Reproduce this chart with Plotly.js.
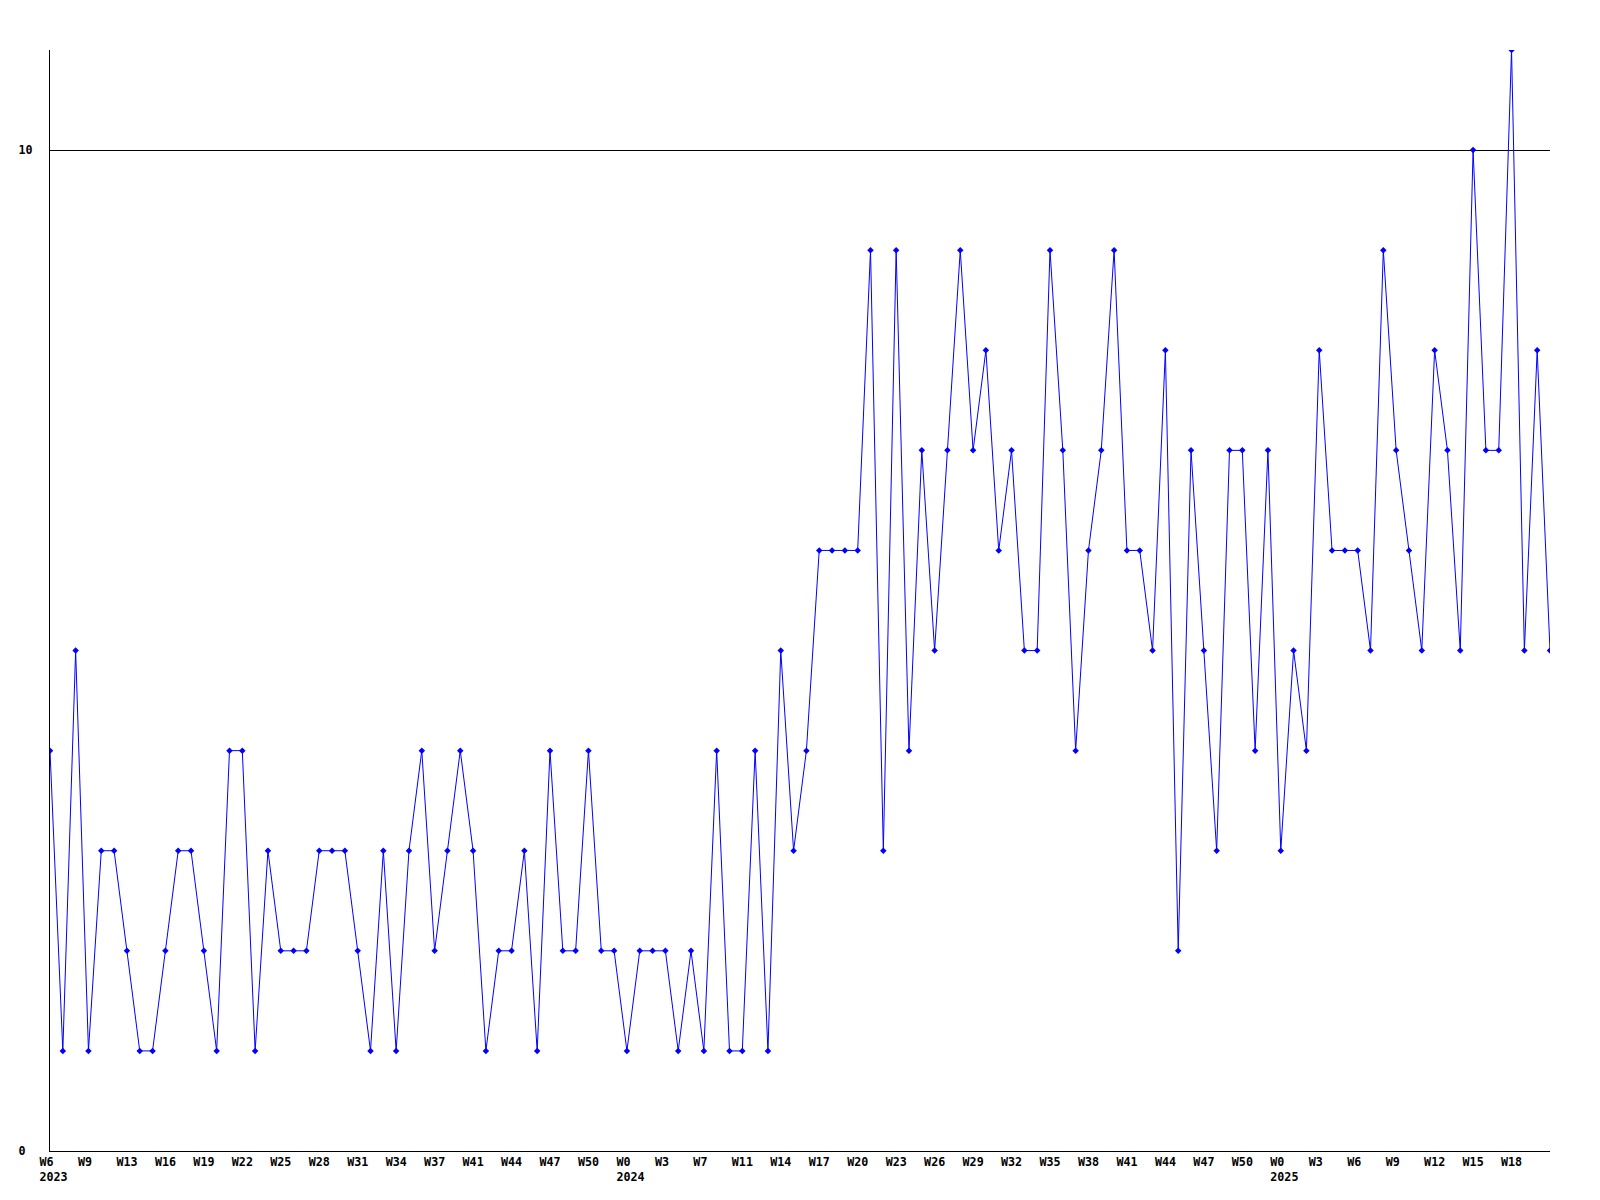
<!DOCTYPE html>
<html>
<head>
<meta charset="utf-8">
<script src="https://cdn.plot.ly/plotly-3.0.1.min.js"></script>
<style>
  html, body { margin: 0; padding: 0; background: #ffffff; }
  #chart { width: 1600px; height: 1200px; }
</style>
</head>
<body>
<div id="chart"></div>
<script>
// Weekly values, W6 2023 through W21 2025 (one point per week)
const values = [
  4, 1, 5, 1, 3, 3, 2, 1, 1, 2,
  3, 3, 2, 1, 4, 4, 1, 3, 2, 2,
  2, 3, 3, 3, 2, 1, 3, 1, 3, 4,
  2, 3, 4, 3, 1, 2, 2, 3, 1, 4,
  2, 2, 4, 2, 2, 1, 2, 2, 2, 1,
  2, 1, 4, 1, 1, 4, 1, 5, 3, 4,
  6, 6, 6, 6, 9, 3, 9, 4, 7, 5,
  7, 9, 7, 8, 6, 7, 5, 5, 9, 7,
  4, 6, 7, 9, 6, 6, 5, 8, 2, 7,
  5, 3, 7, 7, 4, 7, 3, 5, 4, 8,
  6, 6, 6, 5, 9, 7, 6, 5, 8, 7,
  5, 10, 7, 7, 11, 5, 8, 5
];

// Tick labels: every third point
const tickIndex = [
  0, 3, 6, 9, 12, 15, 18, 21, 24, 27, 30, 33, 36, 39, 42,
  45, 48, 51, 54, 57, 60, 63, 66, 69, 72, 75, 78, 81, 84, 87, 90, 93,
  96, 99, 102, 105, 108, 111, 114
];
const tickWeeks = [
  "W6", "W9", "W13", "W16", "W19", "W22", "W25", "W28", "W31", "W34", "W37", "W41", "W44", "W47", "W50",
  "W0", "W3", "W7", "W11", "W14", "W17", "W20", "W23", "W26", "W29", "W32", "W35", "W38", "W41", "W44", "W47", "W50",
  "W0", "W3", "W6", "W9", "W12", "W15", "W18"
];
const yearAt = { 0: "2023", 45: "2024", 96: "2025" };

const yTickVals = [0, 10];
const yTickText = ["0\u00a0", "10"];

const xs = values.map((v, i) => i);
const tickText = tickIndex.map((ix, k) => yearAt[ix] ? tickWeeks[k] + "<br>" + yearAt[ix] : tickWeeks[k]);

const tickFont = { family: "DejaVu Sans Mono", size: 11.7, color: "#000000", weight: "bold" };

const trace = {
  x: xs,
  y: values,
  type: "scatter",
  mode: "lines+markers",
  line: { color: "#0000ff", width: 1 },
  marker: { color: "#0000ff", size: 5, symbol: "diamond", line: { width: 0 } },
  hoverinfo: "skip"
};

const layout = {
  width: 1600,
  height: 1200,
  paper_bgcolor: "#ffffff",
  plot_bgcolor: "#ffffff",
  showlegend: false,
  margin: { l: 50, r: 50, t: 50, b: 49, pad: 0 },
  xaxis: {
    range: [0, 117],
    tickmode: "array",
    tickvals: tickIndex,
    ticktext: tickText,
    ticks: "",
    showgrid: false,
    zeroline: false,
    showline: true,
    linecolor: "#000000",
    linewidth: 1,
    ticklabelposition: "outside right",
    ticklabelshift: -11,
    tickfont: tickFont
  },
  yaxis: {
    range: [0, 11],
    tickmode: "array",
    tickvals: yTickVals,
    ticktext: yTickText,
    ticks: "",
    showgrid: true,
    gridcolor: "#000000",
    gridwidth: 1,
    zeroline: false,
    showline: true,
    linecolor: "#000000",
    linewidth: 1,
    ticklabelstandoff: 14,
    tickfont: tickFont
  }
};

Plotly.newPlot("chart", [trace], layout, { displayModeBar: false, staticPlot: true });
</script>
</body>
</html>
